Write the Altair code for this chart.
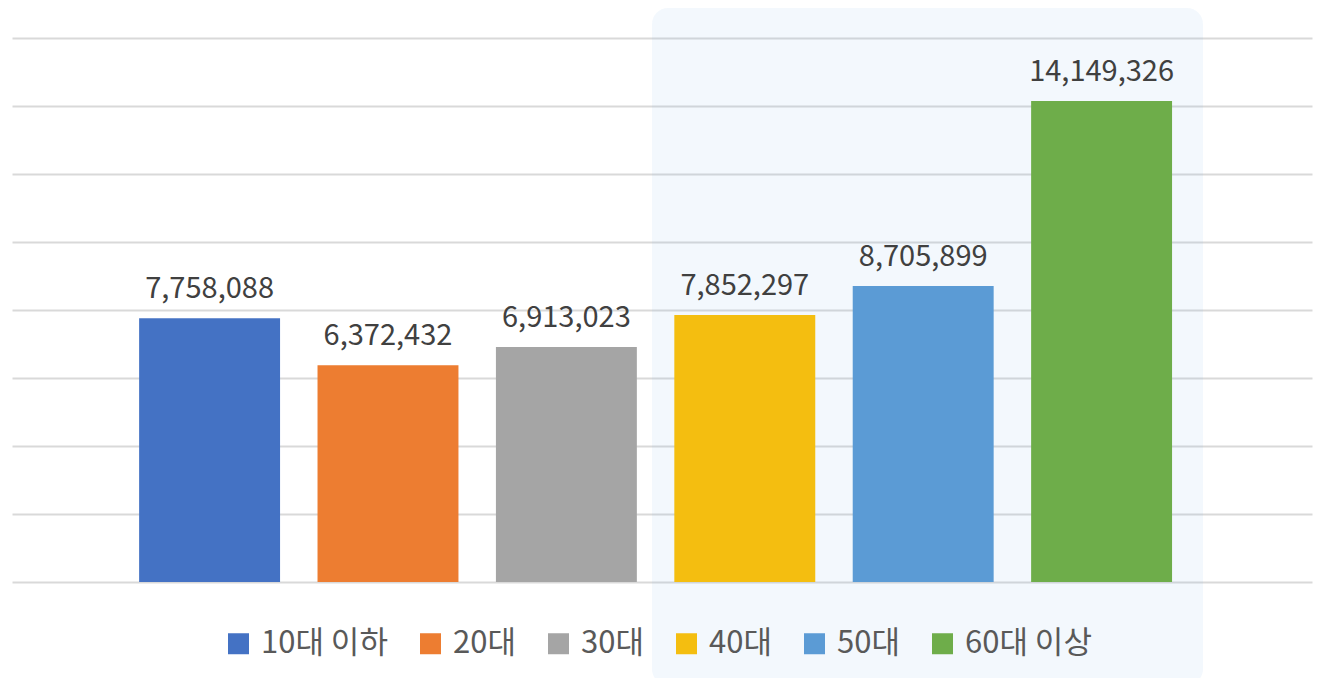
import altair as alt
import pandas as pd

categories = ["10대 이하", "20대", "30대", "40대", "50대", "60대 이상"]
values = [7758088, 6372432, 6913023, 7852297, 8705899, 14149326]
colors = ["#4472C4", "#ED7D31", "#A5A5A5", "#F4BE10", "#5B9BD5", "#6EAD4A"]
grid_ticks = [0, 2000000, 4000000, 6000000, 8000000, 10000000, 12000000, 14000000, 16000000]

df = pd.DataFrame({"cat": categories, "val": values})

FONT = "Noto Sans CJK KR"
W, H = 1300, 544

xscale = alt.Scale(domain=categories, paddingInner=0.21, paddingOuter=0.7485, align=0.476)
yscale = alt.Scale(domain=[0, 16000000], nice=False)

highlight = alt.Chart(pd.DataFrame({"a": [1]})).mark_rect(
    fill="#69A7E6", opacity=0.08, cornerRadius=16
).encode(
    x=alt.value(640), x2=alt.value(1191), y=alt.value(-30), y2=alt.value(647)
)

bars = alt.Chart(df).mark_bar().encode(
    x=alt.X("cat:N", scale=xscale, axis=None, sort=categories),
    y=alt.Y("val:Q", scale=yscale,
            axis=alt.Axis(values=grid_ticks, grid=True, gridColor="#D9D9D9", gridWidth=2,
                          labels=False, ticks=False, domain=False, title=None)),
    color=alt.Color("cat:N", scale=alt.Scale(domain=categories, range=colors), sort=categories,
                    legend=alt.Legend(title=None, orient="none", direction="horizontal",
                                      legendX=211, legendY=590,
                                      symbolType="square", symbolSize=441, symbolStrokeWidth=0,
                                      labelFont=FONT, labelFontSize=31, labelColor="#595959",
                                      labelOffset=7, columnPadding=27, labelLimit=400)),
)

labels = alt.Chart(df).mark_text(
    font=FONT, fontSize=29, color="#404040", baseline="alphabetic", dy=-20
).encode(
    x=alt.X("cat:N", scale=xscale, sort=categories),
    y=alt.Y("val:Q", scale=yscale),
    text=alt.Text("val:Q", format=",d"),
)

chart = alt.layer(highlight, bars, labels).properties(
    width=W, height=H,
    autosize=alt.AutoSizeParams(type="none"),
    padding={"left": 4, "top": 30, "right": 6, "bottom": 96},
).configure(font=FONT).configure_view(stroke=None, strokeWidth=0)

chart.save("out.html", embed_options={"renderer": "svg", "actions": False})
